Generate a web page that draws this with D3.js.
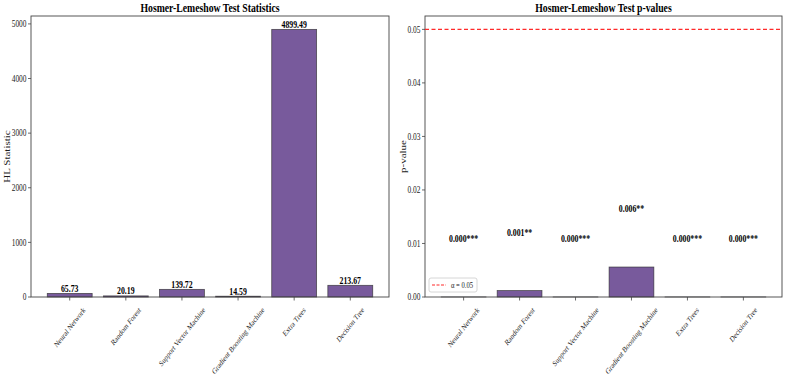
<!DOCTYPE html>
<html>
<head>
<meta charset="utf-8">
<script src="https://cdn.jsdelivr.net/npm/d3@7"></script>
<style>
  body { margin: 0; background: #fff; }
  svg { display: block; font-family: "Liberation Serif", "DejaVu Serif", serif; }
  svg text { -webkit-font-smoothing: antialiased; }
</style>
</head>
<body>
<svg width="786" height="379"></svg>
<script>

const models = ["Neural Network", "Random Forest", "Support Vector Machine",
    "Gradient Boosting Machine", "Extra Trees", "Decision Tree"];

const hl_stats = [65.73, 20.19, 139.72, 14.59, 4899.49, 213.67];

const p_values = [0.00001, 0.0012, 0.00001, 0.0056, 0.00001, 0.00001];

const hl_ticks = [0, 1000, 2000, 3000, 4000, 5000];
const p_ticks = [0, 0.01, 0.02, 0.03, 0.04, 0.05];

const alpha = 0.05;

const bar_color = "#785a9c";
const SX = 0.78; // the picture looks squeezed horizontally

const svg = d3.select("svg");

// text with horizontal squeeze
function label(g, x, y, txt, opts = {}) {
    const rot = opts.rotate ? ` rotate(${opts.rotate})` : "";
    return g.append("text")
        .attr("transform", `translate(${x},${y}) scale(${SX},1)${rot}`)
        .attr("text-anchor", opts.anchor || "middle")
        .attr("dominant-baseline", opts.baseline || "auto")
        .attr("font-size", opts.size || 8)
        .attr("font-weight", opts.bold ? "bold" : "normal")
        .attr("fill", opts.fill || "#1a1a1a")
        .text(txt);
}

function stars(p) {
    if (p < 0.001) return "***";
    if (p < 0.01) return "**";
    if (p < 0.05) return "*";
    return "";
}

function panel(box, values, ymax, ticks, fmt, title, ylabel, ylab_x) {

    const g = svg.append("g");

    // matplotlib-like bar positions: width 0.8, 5% margins
    const n = models.length;
    const lo = -0.4, hi = n - 1 + 0.4, pad = (hi - lo) * 0.05;
    const x = d3.scaleLinear().domain([lo - pad, hi + pad]).range([box.left, box.right]);
    const y = d3.scaleLinear().domain([0, ymax]).range([box.bottom, box.top]);

    g.selectAll("rect.bar")
        .data(values)
        .join("rect")
        .attr("class", "bar")
        .attr("x", (d, i) => x(i - 0.4))
        .attr("width", x(0.8) - x(0))
        .attr("y", d => y(d))
        .attr("height", d => y(0) - y(d))
        .attr("fill", bar_color)
        .attr("stroke", "#2a2a2a")
        .attr("stroke-opacity", 0.75)
        .attr("stroke-width", 0.8);

    // frame
    g.append("rect")
        .attr("x", box.left).attr("y", box.top)
        .attr("width", box.right - box.left).attr("height", box.bottom - box.top)
        .attr("fill", "none").attr("stroke", "#444").attr("stroke-width", 0.9);

    // y axis
    ticks.forEach(t => {
        g.append("line")
            .attr("x1", box.left - 3).attr("x2", box.left)
            .attr("y1", y(t)).attr("y2", y(t))
            .attr("stroke", "#444").attr("stroke-width", 0.8);
        label(g, box.left - 4.5, y(t), fmt(t), {anchor: "end", baseline: "central", size: 9.5});
    });

    // x axis
    models.forEach((m, i) => {
        g.append("line")
            .attr("x1", x(i)).attr("x2", x(i))
            .attr("y1", box.bottom).attr("y2", box.bottom + 3.5)
            .attr("stroke", "#444").attr("stroke-width", 0.8);
    });

    label(g, (box.left + box.right) / 2, box.top - 4.5, title, {size: 12.5, bold: true, fill: "#000"});

    label(g, ylab_x, (box.top + box.bottom) / 2, ylabel,
        {size: 11, rotate: -90, baseline: "central"});

    return {g, x, y};
}

function xlabels(p, box) {
    models.forEach((m, i) => {
        const t = label(p.g, 0, 0, m, {anchor: "middle", baseline: "central", size: 8.2});
        const bb = t.node().getBBox();
        // rotated 45deg, bounding box centered under the tick
        const half = (bb.width + bb.height) * Math.SQRT1_2 / 2;
        const cy = box.bottom + 8 + half;
        t.attr("transform", `translate(${p.x(i)},${cy}) scale(${SX},1) rotate(-45)`);
    });
}

// left: HL statistics
const box1 = {left: 31, right: 389, top: 16, bottom: 297};
const left = panel(box1, hl_stats, d3.max(hl_stats) * 1.05, hl_ticks, d3.format("d"),
    "Hosmer-Lemeshow Test Statistics", "HL Statistic", 7);
xlabels(left, box1);

hl_stats.forEach((v, i) => {
    label(left.g, left.x(i), left.y(v) - 1.5, v.toFixed(2), {size: 10, bold: true, fill: "#000"});
});

// right: p-values
const box2 = {left: 425, right: 782, top: 16, bottom: 297};
const right = panel(box2, p_values, alpha * 1.05, p_ticks, d3.format(".2f"),
    "Hosmer-Lemeshow Test p-values", "p-value", 403);
xlabels(right, box2);

p_values.forEach((v, i) => {
    label(right.g, right.x(i), right.y(v + 0.01) - 1.5, v.toFixed(3) + stars(v),
        {size: 10, bold: true, fill: "#000"});
});

right.g.append("line")
    .attr("x1", box2.left).attr("x2", box2.right)
    .attr("y1", right.y(alpha)).attr("y2", right.y(alpha))
    .attr("stroke", "#ff2a2a").attr("stroke-width", 1.1)
    .attr("stroke-dasharray", "4,2.5");

// legend
const lg = right.g.append("g");
lg.append("rect")
    .attr("x", 429).attr("y", 278).attr("width", 48).attr("height", 14)
    .attr("rx", 2).attr("fill", "#fff").attr("stroke", "#ccc").attr("stroke-width", 0.8);
lg.append("line")
    .attr("x1", 432).attr("x2", 446).attr("y1", 285).attr("y2", 285)
    .attr("stroke", "#ff2a2a").attr("stroke-width", 1.1).attr("stroke-dasharray", "3,1.5");
label(lg, 451, 285, "α = 0.05", {anchor: "start", baseline: "central", size: 8.5});

</script>
</body>
</html>
